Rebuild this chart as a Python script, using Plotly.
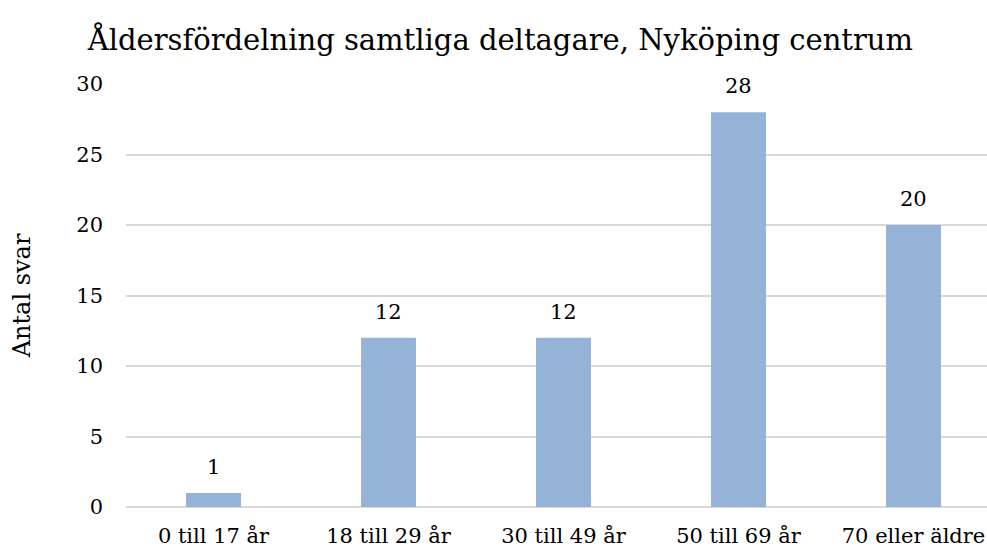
import plotly.graph_objects as go

categories = ["0 till 17 år", "18 till 29 år", "30 till 49 år", "50 till 69 år", "70 eller äldre"]
values = [1, 12, 12, 28, 20]
y_ticks = [0, 5, 10, 15, 20, 25, 30]

FONT = "DejaVu Serif"

fig = go.Figure()
fig.add_trace(go.Bar(
    x=categories, y=values, width=0.314,
    marker=dict(color="#95B3D7", line=dict(width=0)),
    hoverinfo="skip",
))

for c, v in zip(categories, values):
    fig.add_annotation(x=c, y=v, text=str(v), showarrow=False, yshift=26,
                       font=dict(family=FONT, size=21, color="#000000"))

fig.update_layout(
    width=987, height=549,
    margin=dict(l=126, r=0, t=84, b=42, autoexpand=False),
    paper_bgcolor="white", plot_bgcolor="white",
    showlegend=False,
    title=dict(text="Åldersfördelning samtliga deltagare, Nyköping centrum",
               x=0.507, xanchor="center", y=0.928, yanchor="middle",
               font=dict(family=FONT, size=29, color="#000000")),
    font=dict(family=FONT, color="#000000"),
)
fig.update_xaxes(range=[-0.5, 4.42], showgrid=False, showline=False, ticks="",
                 ticklabelstandoff=14, automargin=False,
                 tickfont=dict(family=FONT, size=21, color="#000000"))
fig.update_yaxes(range=[0, 30], tickvals=y_ticks, showgrid=True, gridcolor="#D9D9D9",
                 gridwidth=2, zeroline=True, zerolinecolor="#D9D9D9", zerolinewidth=2,
                 showline=False, ticks="", ticklabelstandoff=22, automargin=False,
                 tickfont=dict(family=FONT, size=21, color="#000000"),
                 title=dict(text="Antal svar", standoff=38,
                            font=dict(family=FONT, size=24, color="#000000")))

fig.write_html(
    "out.html",
    config={"displayModeBar": False},
    post_script="document.body.style.margin='0';document.body.style.overflow='hidden';",
)
